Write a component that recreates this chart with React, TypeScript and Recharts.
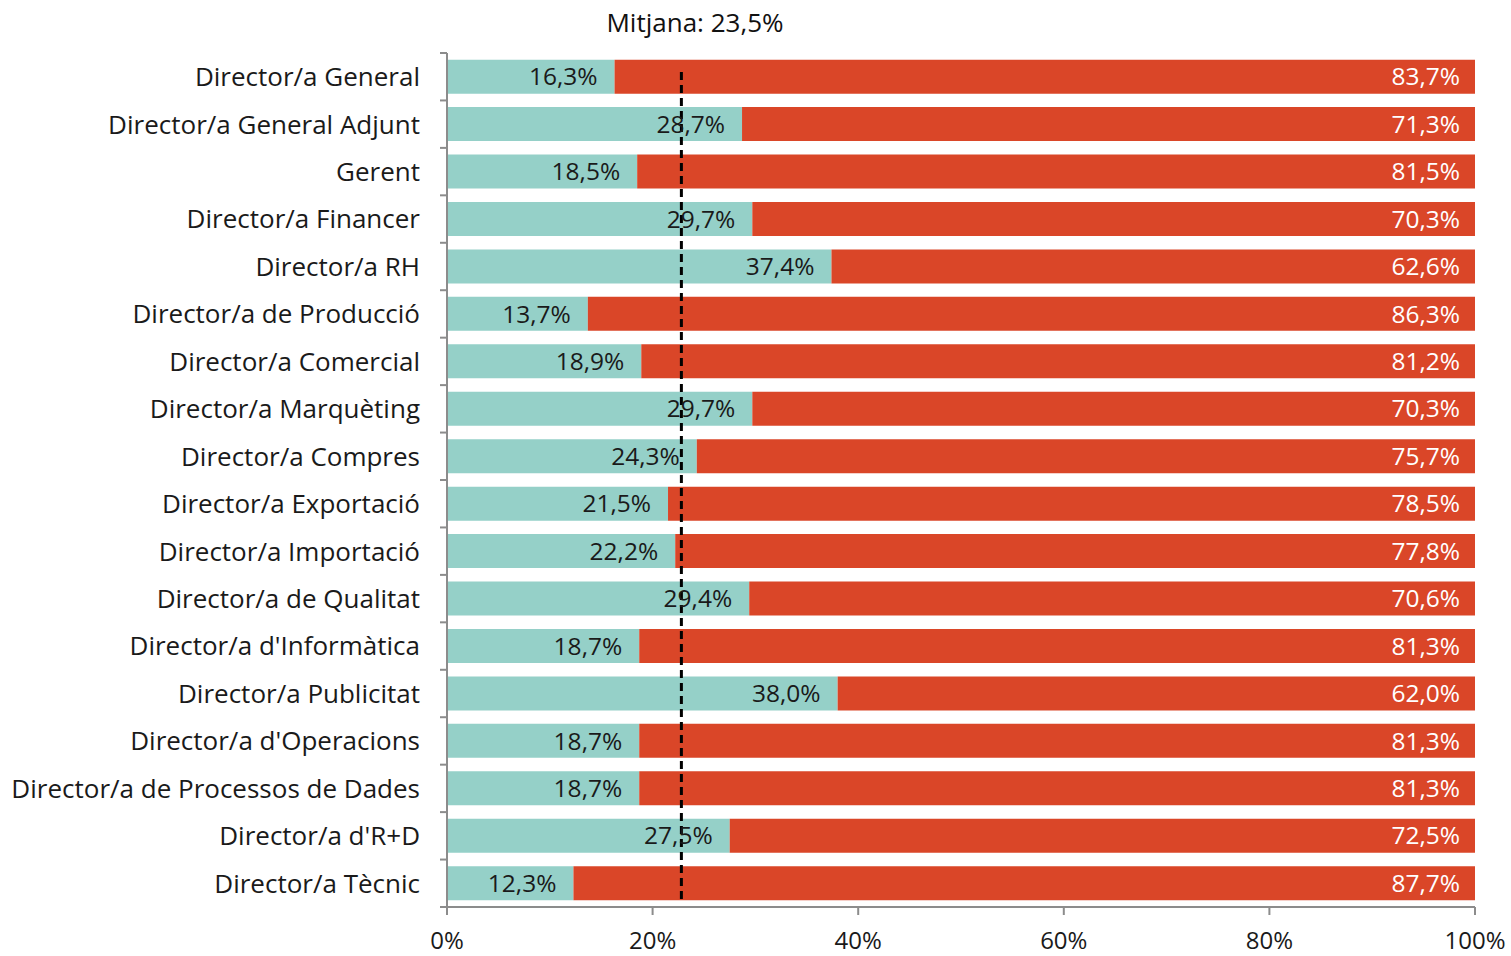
import React from 'react';
import {
  BarChart,
  Bar,
  XAxis,
  YAxis,
  ReferenceLine,
  LabelList,
} from 'recharts';

const categories = [
  'Director/a General',
  'Director/a General Adjunt',
  'Gerent',
  'Director/a Financer',
  'Director/a RH',
  'Director/a de Producció',
  'Director/a Comercial',
  'Director/a Marquèting',
  'Director/a Compres',
  'Director/a Exportació',
  'Director/a Importació',
  'Director/a de Qualitat',
  "Director/a d'Informàtica",
  'Director/a Publicitat',
  "Director/a d'Operacions",
  'Director/a de Processos de Dades',
  "Director/a d'R+D",
  'Director/a Tècnic',
];

const dones = [16.3, 28.7, 18.5, 29.7, 37.4, 13.7, 18.9, 29.7, 24.3, 21.5, 22.2, 29.4, 18.7, 38.0, 18.7, 18.7, 27.5, 12.3];
const homes = [83.7, 71.3, 81.5, 70.3, 62.6, 86.3, 81.2, 70.3, 75.7, 78.5, 77.8, 70.6, 81.3, 62.0, 81.3, 81.3, 72.5, 87.7];
const xTicks = [0, 20, 40, 60, 80, 100];
const meanLabel = 'Mitjana: 23,5%';
const meanPos = 22.8;

const data = categories.map((name, i) => ({ name, dones: dones[i], homes: homes[i] }));

const FONT = '"Open Sans", "Noto Sans", sans-serif';
const AXIS = '#8c8c8c';
const BAND = (907 - 53) / categories.length;

const fmt = (v: number) => `${v.toFixed(1).replace('.', ',')}%`;

function CategoryTick(props: any) {
  const { x, y, payload, index } = props;
  const top = y - BAND / 2;
  return (
    <g>
      <line x1={447} x2={440} y1={top} y2={top} stroke={AXIS} strokeWidth={2} />
      {index === categories.length - 1 && (
        <line x1={447} x2={440} y1={y + BAND / 2} y2={y + BAND / 2} stroke={AXIS} strokeWidth={2} />
      )}
      <text x={x} y={y} dy="0.36em" textAnchor="end" fontSize={26} fill="#1a1a1a" fontFamily={FONT}>
        {payload.value}
      </text>
    </g>
  );
}

function MeanLine(props: any) {
  const { x1, x2, y1, y2 } = props;
  const top = Math.min(y1, y2) + 19;
  const bottom = Math.max(y1, y2) - 4;
  return (
    <line
      x1={x1}
      x2={x2}
      y1={top}
      y2={bottom}
      stroke="#000"
      strokeWidth={3}
      strokeDasharray="8 5"
    />
  );
}

export default function App() {
  return (
    <div style={{ position: 'absolute', left: 0, top: 0, width: 1511, height: 956, background: '#fff' }}>
      <div
        style={{
          position: 'absolute',
          left: 695,
          top: 4,
          transform: 'translateX(-50%)',
          fontFamily: '"Open Sans", sans-serif',
          fontSize: 26,
          color: '#111',
          whiteSpace: 'nowrap',
        }}
      >
        {meanLabel}
      </div>
      <BarChart
        width={1511}
        height={956}
        data={data}
        layout="vertical"
        margin={{ top: 53, right: 36, left: 0, bottom: 0 }}
        barCategoryGap="14%"
      >
        <XAxis
          type="number"
          domain={[0, 100]}
          ticks={xTicks}
          allowDataOverflow
          tickFormatter={(v) => `${v}%`}
          stroke={AXIS}
          strokeWidth={2}
          tickSize={8}
          tickMargin={17}
          height={49}
          tick={{ fontSize: 24, fill: '#1a1a1a', fontFamily: FONT }}
        />
        <YAxis
          type="category"
          dataKey="name"
          width={447}
          stroke={AXIS}
          strokeWidth={2}
          tickLine={false}
          tickSize={7}
          tickMargin={20}
          interval={0}
          tick={<CategoryTick />}
        />
        <Bar dataKey="dones" stackId="a" fill="#95d0c8" isAnimationActive={false}>
          <LabelList
            dataKey="dones"
            position="insideRight"
            offset={17}
            formatter={(v: any) => fmt(Number(v))}
            style={{ fontSize: 24.5, fill: '#1a1a1a', fontFamily: FONT }}
          />
        </Bar>
        <Bar dataKey="homes" stackId="a" fill="#da4628" isAnimationActive={false}>
          <LabelList
            dataKey="homes"
            position="insideRight"
            offset={15}
            formatter={(v: any) => fmt(Number(v))}
            style={{ fontSize: 24.5, fill: '#ffffff', fontFamily: FONT }}
          />
        </Bar>
        <ReferenceLine x={meanPos} shape={<MeanLine />} ifOverflow="visible" />
      </BarChart>
    </div>
  );
}
